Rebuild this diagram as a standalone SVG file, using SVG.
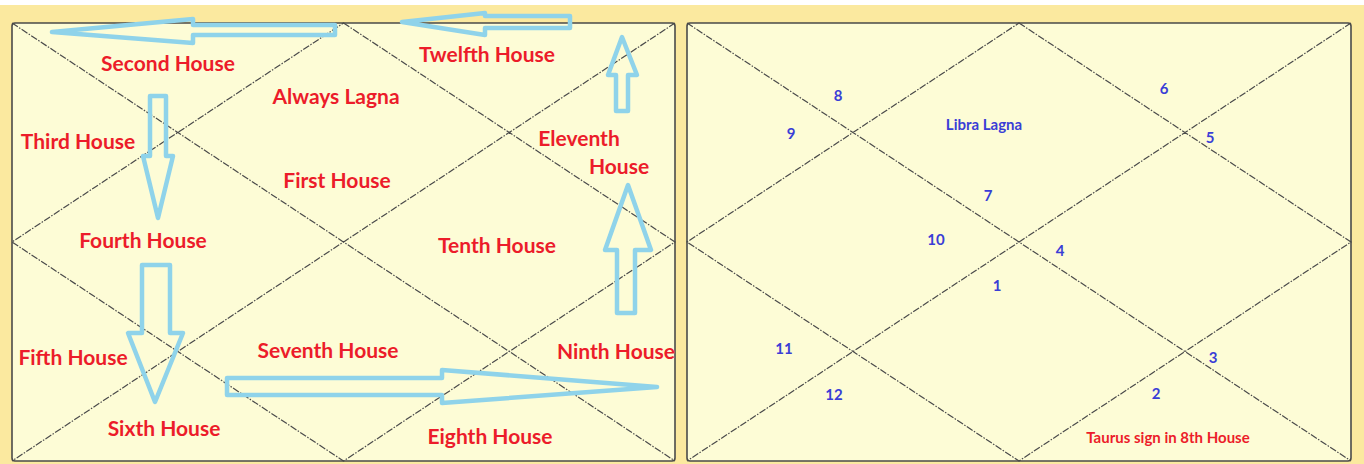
<svg xmlns="http://www.w3.org/2000/svg" width="1364" height="464" viewBox="0 0 1364 464">
<style>
.panel{fill:#fdfcd6;stroke:#4a4a4a;stroke-width:1.6}
.grid{stroke:#4a4a4a;stroke-width:1.2;stroke-dasharray:7 1.5 1.5 1.5;fill:none}
.lbl{font-family:Lato,"Open Sans",sans-serif;font-weight:bold;font-size:21px;fill:#ec1c2a;text-anchor:middle}
.num{font-family:Lato,"Open Sans",sans-serif;font-weight:bold;font-size:15px;fill:#3a3ed6;text-anchor:middle}
.red{fill:#ec1c2a}
.arrow{fill:none;stroke:#8fd3ea;stroke-width:4.5;stroke-linejoin:round}
</style>
<rect x="0" y="0" width="1364" height="464" fill="#fbe99f"/>
<rect x="0" y="0" width="1364" height="5" fill="#ffffff"/>

<g id="left-chart">
<rect class="panel" x="12" y="23" width="663" height="438" rx="3"/>
<path class="grid" d="M12 23L675 461M675 23L12 461M343.5 23L675 242L343.5 461L12 242Z"/>
</g>
<g id="right-chart">
<rect class="panel" x="687" y="23" width="664" height="438" rx="3"/>
<path class="grid" d="M687 23L1351 461M1351 23L687 461M1019 23L1351 242L1019 461L687 242Z"/>
</g>

<g id="left-labels">
<text class="lbl" x="168" y="71">Second House</text>
<text class="lbl" x="336" y="104">Always Lagna</text>
<text class="lbl" x="487" y="62">Twelfth House</text>
<text class="lbl" x="78" y="149">Third House</text>
<text class="lbl" x="579" y="146">Eleventh</text>
<text class="lbl" x="619" y="174">House</text>
<text class="lbl" x="337" y="188">First House</text>
<text class="lbl" x="143" y="248">Fourth House</text>
<text class="lbl" x="497" y="253">Tenth House</text>
<text class="lbl" x="73" y="365">Fifth House</text>
<text class="lbl" x="328" y="358">Seventh House</text>
<text class="lbl" x="616" y="359">Ninth House</text>
<text class="lbl" x="164" y="436">Sixth House</text>
<text class="lbl" x="490" y="444">Eighth House</text>
</g>

<g id="right-labels">
<text class="num" x="838" y="101">8</text>
<text class="num" x="791" y="139">9</text>
<text class="num" x="984" y="130">Libra Lagna</text>
<text class="num" x="1164" y="94">6</text>
<text class="num" x="1210" y="143">5</text>
<text class="num" x="988" y="201">7</text>
<text class="num" x="936" y="245">10</text>
<text class="num" x="1060" y="256">4</text>
<text class="num" x="997" y="291">1</text>
<text class="num" x="784" y="354">11</text>
<text class="num" x="1213" y="363">3</text>
<text class="num" x="834" y="400">12</text>
<text class="num" x="1156" y="399">2</text>
<text class="num red" x="1168" y="443">Taurus sign in 8th House</text>
</g>

<g id="connectors">
<polygon class="arrow" points="52,32 193,19 193,25 335,25 335,35 193,35 193,43"/>
<polygon class="arrow" points="402,22 485,13 485,16 570,16 570,28 485,28 485,35"/>
<polygon class="arrow" points="622,37 637,75 628,75 628,111 616,111 616,75 608,75"/>
<polygon class="arrow" points="150,96 166,96 166,156 173,156 158,218 143,156 150,156"/>
<polygon class="arrow" points="142,265 170,265 170,333 183,333 155,402 128,333 142,333"/>
<polygon class="arrow" points="227,378 442,378 442,370 657,387 442,403 442,395 227,395"/>
<polygon class="arrow" points="628,185 651,250 635,250 635,313 617,313 617,250 605,250"/>
</g>
</svg>
